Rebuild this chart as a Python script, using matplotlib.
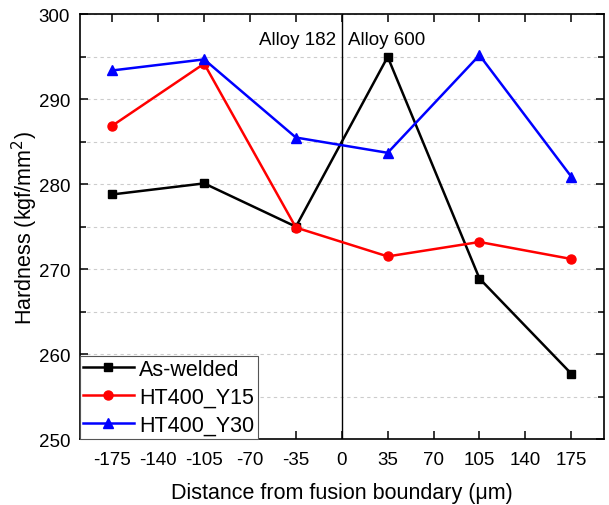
import numpy as np
import matplotlib
matplotlib.use('Agg')
import matplotlib.pyplot as plt
from matplotlib.ticker import MultipleLocator

plt.rcParams['font.family'] = ['Liberation Sans', 'DejaVu Sans']
plt.rcParams['axes.unicode_minus'] = False

# Data
distance = [-175, -105, -35, 35, 105, 175]
as_welded = [278.8, 280.1, 275.0, 295.0, 268.9, 257.7]
ht400_y15 = [286.9, 294.2, 274.9, 271.5, 273.2, 271.2]
ht400_y30 = [293.4, 294.7, 285.5, 283.7, 295.2, 280.9]
x_ticks = [-175, -140, -105, -70, -35, 0, 35, 70, 105, 140, 175]


def main():
    fig = plt.figure(figsize=(6.09, 5.06), dpi=100)
    ax = fig.add_axes([0.1307, 0.1304, 0.8611, 0.8392])

    ax.plot(distance, as_welded, color='black', linewidth=1.8, marker='s',
            markersize=6, label='As-welded', zorder=3)
    ax.plot(distance, ht400_y15, color='red', linewidth=1.8, marker='o',
            markersize=6.5, label='HT400_Y15', zorder=3)
    ax.plot(distance, ht400_y30, color='blue', linewidth=1.8, marker='^',
            markersize=7.5, label='HT400_Y30', zorder=3)

    # fusion boundary
    ax.axvline(0, color='black', linewidth=1.0, zorder=2)
    ax.text(-4, 297.1, 'Alloy 182', ha='right', va='center', fontsize=13.5)
    ax.text(4.5, 297.1, 'Alloy 600', ha='left', va='center', fontsize=13.5)

    ax.set_xlim(-200, 200)
    ax.set_ylim(250, 300)
    ax.set_xticks(x_ticks)
    ax.yaxis.set_major_locator(MultipleLocator(10))
    ax.yaxis.set_minor_locator(MultipleLocator(5))
    ax.grid(axis='y', which='both', linestyle=(0, (3, 3)), color='#cccccc',
            linewidth=0.8, zorder=0)
    ax.set_axisbelow(True)

    ax.tick_params(which='both', direction='in', top=True, right=True,
                   labelsize=13.5, width=1.1)
    ax.tick_params(which='major', length=6)
    ax.tick_params(which='minor', length=4)
    ax.tick_params(axis='x', pad=8.4)
    ax.tick_params(axis='y', pad=6.9)
    for s in ax.spines.values():
        s.set_linewidth(1.2)

    ax.set_xlabel('Distance from fusion boundary (\u03bcm)', fontsize=15.5,
                  labelpad=10)
    ax.set_ylabel('Hardness (kgf/mm$^2$)', fontsize=15.5, labelpad=-1)

    leg = ax.legend(loc='lower left', borderaxespad=0, fontsize=15.5,
                    fancybox=False, framealpha=1, edgecolor='#555555',
                    handlelength=2.36, handletextpad=0.27, borderpad=0.15,
                    labelspacing=0.32)
    leg.get_frame().set_linewidth(0.8)

    fig.savefig('out.png', dpi=100)


if __name__ == "__main__":
    main()
